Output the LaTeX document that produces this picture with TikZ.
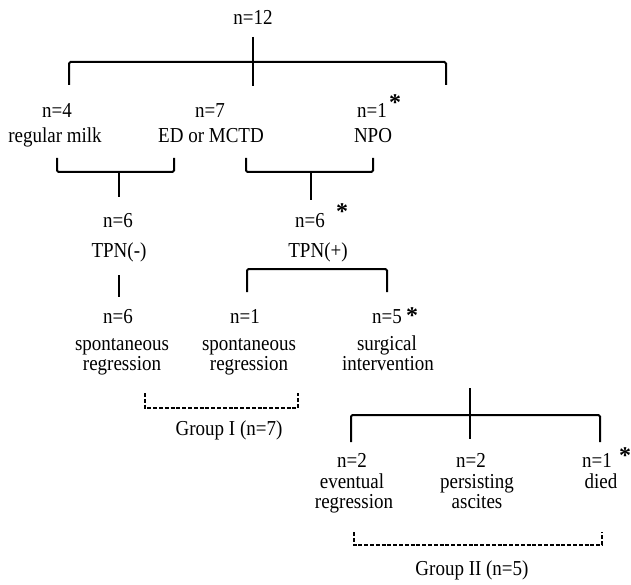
\documentclass[tikz,border=0pt]{standalone}
\usepackage{fontspec}
\usepackage{graphicx}
\setmainfont{Liberation Serif}
\newcommand\vtx[1]{\scalebox{1}[1.12]{#1}}
\begin{document}
\begin{tikzpicture}[x=1pt,y=-1pt,
  txt/.style={font=\fontsize{19}{22}\selectfont, inner sep=0pt, anchor=base},
  ast/.style={font=\fontsize{24}{24}\selectfont\bfseries, inner sep=0pt, anchor=base},
  ln/.style={line width=2pt, rounded corners=1.5pt},
  dsh/.style={line width=1.5pt, dash pattern=on 4pt off 1.8pt}]
\useasboundingbox[fill=white] (0,0) rectangle (631,585);
% level 0
\node[txt] (n12) at (253,25) {\vtx{n=12}};
% level 1
\node[txt] (n4) at (57,118) {\vtx{n=4}};
\node[txt] (d4) at (55,143) {\vtx{regular milk}};
\node[txt] (n7) at (210,118) {\vtx{n=7}};
\node[txt] (d7) at (211,143) {\vtx{ED or MCTD}};
\node[txt] (n1a) at (372,118) {\vtx{n=1}};
\node[txt] (d1a) at (373,143) {\vtx{NPO}};
\node[ast] (s1) at (395,111) {*};
% level 2
\node[txt] (n6a) at (118,227) {\vtx{n=6}};
\node[txt] (d6a) at (119,257) {\vtx{TPN(-)}};
\node[txt] (n6b) at (310,227) {\vtx{n=6}};
\node[txt] (d6b) at (318,257) {\vtx{TPN(+)}};
\node[ast] (s2) at (342,219) {*};
% level 3
\node[txt] (n6c) at (118,323) {\vtx{n=6}};
\node[txt] (d6c) at (122,350) {\vtx{spontaneous}};
\node[txt] (e6c) at (122,370) {\vtx{regression}};
\node[txt] (n1b) at (245,323) {\vtx{n=1}};
\node[txt] (d1b) at (249,350) {\vtx{spontaneous}};
\node[txt] (e1b) at (249,370) {\vtx{regression}};
\node[txt] (n5) at (387,323) {\vtx{n=5}};
\node[txt] (d5) at (387,350) {\vtx{surgical}};
\node[txt] (e5) at (388,370) {\vtx{intervention}};
\node[ast] (s3) at (412,323) {*};
% level 4
\node[txt] (n2a) at (352,467) {\vtx{n=2}};
\node[txt] (d2a) at (352,488) {\vtx{eventual}};
\node[txt] (e2a) at (354,508) {\vtx{regression}};
\node[txt] (n2b) at (471,467) {\vtx{n=2}};
\node[txt] (d2b) at (477,488) {\vtx{persisting}};
\node[txt] (e2b) at (477,508) {\vtx{ascites}};
\node[txt] (n1c) at (597,467) {\vtx{n=1}};
\node[txt] (d1c) at (601,488) {\vtx{died}};
\node[ast] (s4) at (625,463) {*};
% group labels
\node[txt] (g1) at (229,435) {\vtx{Group I (n=7)}};
\node[txt] (g2) at (472,575) {\vtx{Group II (n=5)}};
% brackets
\draw[ln] (253,37) -- (253,86);
\draw[ln] (69,85) -- (69,62) -- (446,62) -- (446,85);
\draw[ln] (57,158) -- (57,172) -- (174,172) -- (174,158);
\draw[ln] (119,172) -- (119,197);
\draw[ln] (246,158) -- (246,172) -- (373,172) -- (373,158);
\draw[ln] (311,172) -- (311,200);
\draw[ln] (119,275) -- (119,297);
\draw[ln] (247,292) -- (247,269) -- (387,269) -- (387,292);
\draw[ln] (470,388) -- (470,439);
\draw[ln] (351,442) -- (351,415) -- (600,415) -- (600,442);
\draw[dsh] (145,393) -- (145,408) -- (298,408) -- (298,393);
\draw[dsh] (354,532) -- (354,545) -- (602,545) -- (602,532);
\end{tikzpicture}
\end{document}
